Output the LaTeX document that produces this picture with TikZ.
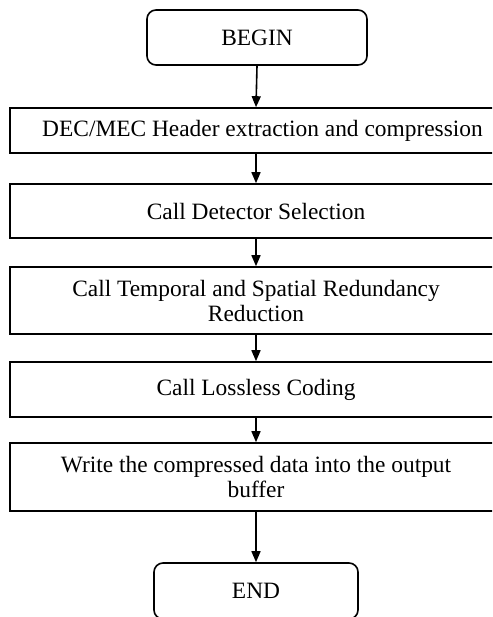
\documentclass[tikz,border=0pt]{standalone}
\usepackage{fontspec}
\setmainfont{Liberation Serif}
\usetikzlibrary{arrows.meta}
\begin{document}
\begin{tikzpicture}[x=1pt,y=-1pt,
  box/.style={draw,line width=1.6pt,inner sep=0pt,minimum width=492pt,align=center,font=\fontsize{23.4}{25}\selectfont},
  term/.style={draw,line width=1.6pt,rounded corners=9pt,inner sep=0pt,font=\fontsize{23.4}{25}\selectfont},
  arr/.style={line width=1.6pt,-{Triangle[length=11pt,width=9pt]}}]
\useasboundingbox (0,0) rectangle (492,617);
\clip (0,0) rectangle (492,617);
\node[term,minimum width=220pt,minimum height=55pt] (begin) at (257,37.5) {BEGIN};
\node[box,minimum height=45pt] (b1) at (256,130.5) {\hspace*{13pt}DEC/MEC Header extraction and compression};
\node[box,minimum height=54pt] (b2) at (256,211) {Call Detector Selection};
\node[box,minimum height=67pt] (b3) at (256,300.5) {Call Temporal and Spatial Redundancy\\Reduction};
\node[box,minimum height=55pt] (b4) at (256,389.5) {Call Lossless Coding};
\node[box,minimum height=68pt] (b5) at (256,477) {Write the compressed data into the output\\buffer};
\node[term,minimum width=204pt,minimum height=56pt] (end) at (256,591) {END};
\draw[arr] (begin.south) -- (b1.north);
\draw[arr] (b1.south) -- (b2.north);
\draw[arr] (b2.south) -- (b3.north);
\draw[arr] (b3.south) -- (b4.north);
\draw[arr] (b4.south) -- (b5.north);
\draw[arr] (b5.south) -- (end.north);
\end{tikzpicture}
\end{document}
